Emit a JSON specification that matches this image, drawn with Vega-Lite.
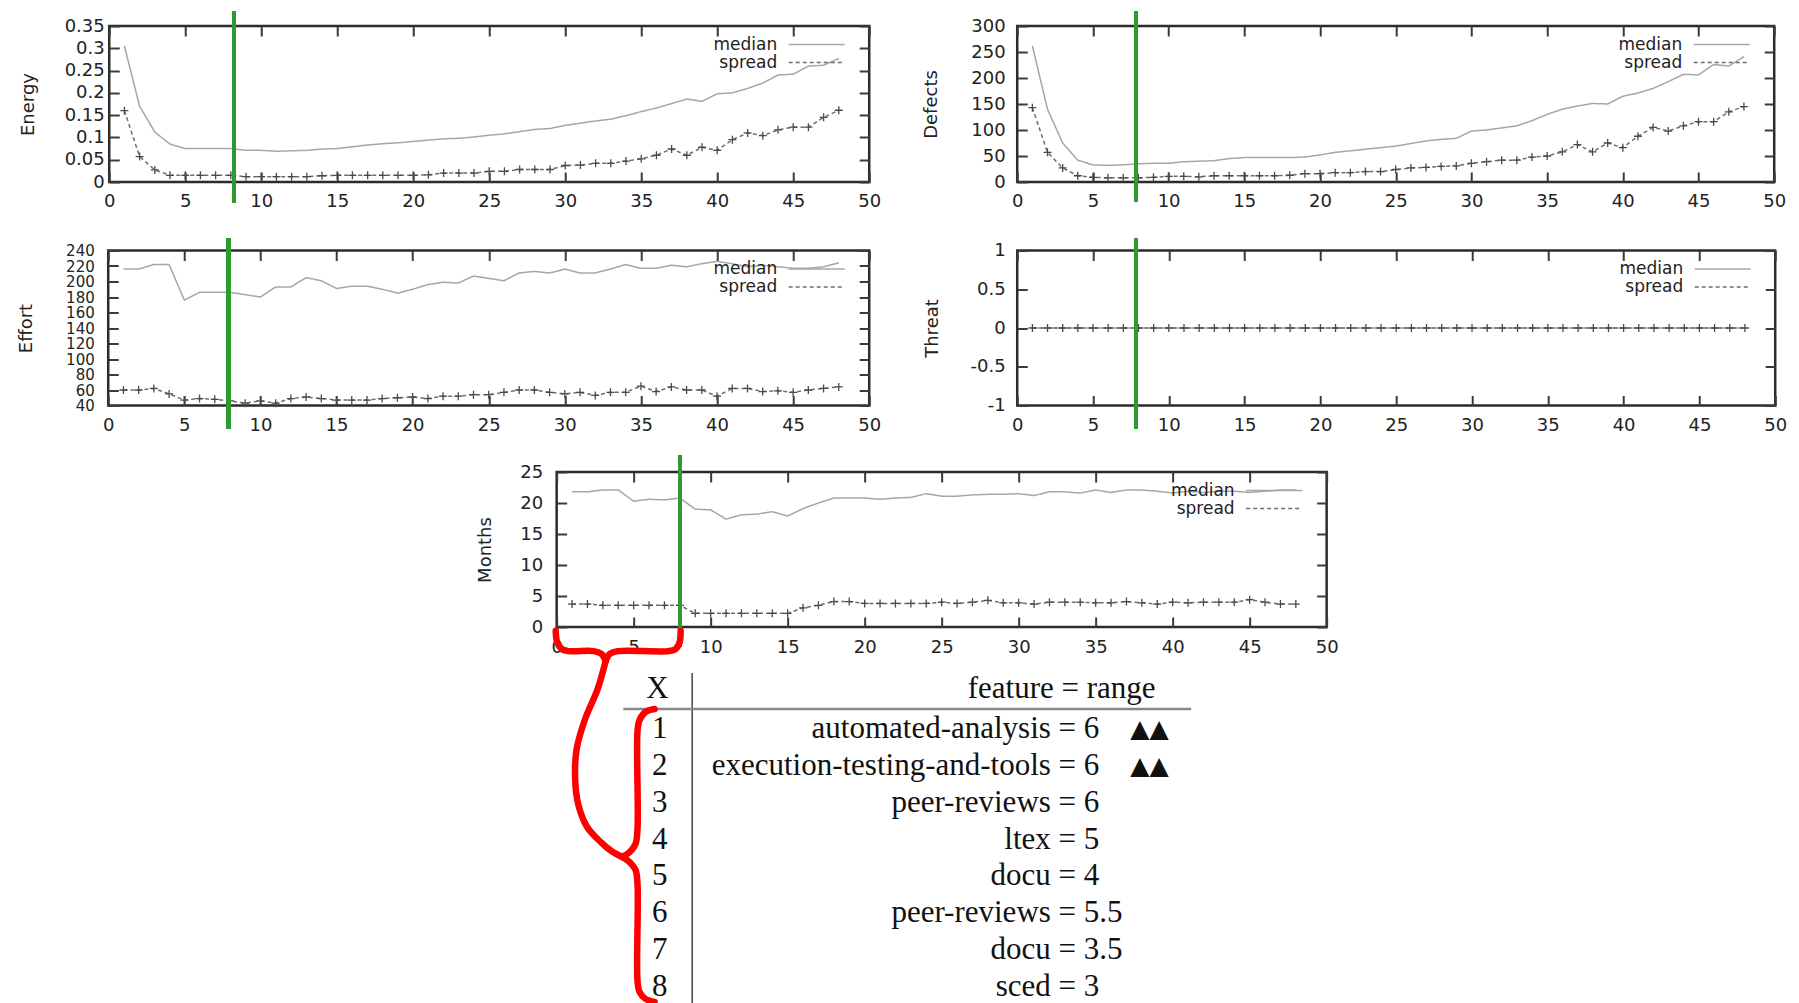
{
"$schema": "https://vega.github.io/schema/vega-lite/v6.json",
"background": "white",
"padding": {"left": 16, "top": 8, "right": 0, "bottom": 0},
"datasets": {
"energy": [
{"t":1,"median":0.305,"spread":0.16},{"t":2,"median":0.17,"spread":0.057},{"t":3,"median":0.112,"spread":0.027},{"t":4,"median":0.085,"spread":0.015},{"t":5,"median":0.075,"spread":0.015},{"t":6,"median":0.075,"spread":0.015},{"t":7,"median":0.075,"spread":0.015},{"t":8,"median":0.075,"spread":0.015},{"t":9,"median":0.071,"spread":0.012},{"t":10,"median":0.071,"spread":0.012},{"t":11,"median":0.069,"spread":0.012},{"t":12,"median":0.07,"spread":0.012},{"t":13,"median":0.071,"spread":0.012},{"t":14,"median":0.074,"spread":0.014},{"t":15,"median":0.075,"spread":0.015},{"t":16,"median":0.079,"spread":0.015},{"t":17,"median":0.083,"spread":0.015},{"t":18,"median":0.086,"spread":0.015},{"t":19,"median":0.088,"spread":0.015},{"t":20,"median":0.091,"spread":0.015},{"t":21,"median":0.094,"spread":0.016},{"t":22,"median":0.097,"spread":0.02},{"t":23,"median":0.098,"spread":0.02},{"t":24,"median":0.101,"spread":0.02},{"t":25,"median":0.105,"spread":0.024},{"t":26,"median":0.108,"spread":0.024},{"t":27,"median":0.113,"spread":0.028},{"t":28,"median":0.118,"spread":0.028},{"t":29,"median":0.12,"spread":0.028},{"t":30,"median":0.127,"spread":0.037},{"t":31,"median":0.132,"spread":0.038},{"t":32,"median":0.137,"spread":0.042},{"t":33,"median":0.141,"spread":0.042},{"t":34,"median":0.149,"spread":0.047},{"t":35,"median":0.158,"spread":0.052},{"t":36,"median":0.166,"spread":0.06},{"t":37,"median":0.176,"spread":0.074},{"t":38,"median":0.186,"spread":0.06},{"t":39,"median":0.181,"spread":0.078},{"t":40,"median":0.198,"spread":0.071},{"t":41,"median":0.2,"spread":0.095},{"t":42,"median":0.21,"spread":0.11},{"t":43,"median":0.222,"spread":0.104},{"t":44,"median":0.24,"spread":0.117},{"t":45,"median":0.242,"spread":0.123},{"t":46,"median":0.26,"spread":0.123},{"t":47,"median":0.262,"spread":0.145},{"t":48,"median":0.277,"spread":0.161}
],
"defects": [
{"t":1,"median":262,"spread":143},{"t":2,"median":140,"spread":57},{"t":3,"median":75,"spread":27},{"t":4,"median":42,"spread":12},{"t":5,"median":33,"spread":9},{"t":6,"median":32,"spread":8},{"t":7,"median":33,"spread":8},{"t":8,"median":35,"spread":8},{"t":9,"median":36,"spread":9},{"t":10,"median":36,"spread":11},{"t":11,"median":39,"spread":11},{"t":12,"median":40,"spread":10},{"t":13,"median":41,"spread":12},{"t":14,"median":45,"spread":12},{"t":15,"median":47,"spread":12},{"t":16,"median":47,"spread":12},{"t":17,"median":47,"spread":12},{"t":18,"median":47,"spread":13},{"t":19,"median":48,"spread":16},{"t":20,"median":52,"spread":16},{"t":21,"median":57,"spread":18},{"t":22,"median":60,"spread":18},{"t":23,"median":63,"spread":20},{"t":24,"median":66,"spread":20},{"t":25,"median":69,"spread":24},{"t":26,"median":74,"spread":27},{"t":27,"median":79,"spread":28},{"t":28,"median":82,"spread":30},{"t":29,"median":84,"spread":31},{"t":30,"median":98,"spread":36},{"t":31,"median":100,"spread":39},{"t":32,"median":104,"spread":42},{"t":33,"median":108,"spread":42},{"t":34,"median":118,"spread":48},{"t":35,"median":130,"spread":50},{"t":36,"median":140,"spread":58},{"t":37,"median":146,"spread":72},{"t":38,"median":151,"spread":58},{"t":39,"median":150,"spread":75},{"t":40,"median":165,"spread":66},{"t":41,"median":171,"spread":88},{"t":42,"median":180,"spread":105},{"t":43,"median":193,"spread":98},{"t":44,"median":207,"spread":108},{"t":45,"median":206,"spread":116},{"t":46,"median":226,"spread":116},{"t":47,"median":223,"spread":135},{"t":48,"median":241,"spread":145}
],
"effort": [
{"t":1,"median":216,"spread":60},{"t":2,"median":216,"spread":60},{"t":3,"median":222,"spread":62},{"t":4,"median":222,"spread":55},{"t":5,"median":176,"spread":47},{"t":6,"median":186,"spread":49},{"t":7,"median":186,"spread":48},{"t":8,"median":186,"spread":46},{"t":9,"median":183,"spread":43},{"t":10,"median":180,"spread":46},{"t":11,"median":193,"spread":43},{"t":12,"median":193,"spread":49},{"t":13,"median":205,"spread":51},{"t":14,"median":201,"spread":49},{"t":15,"median":191,"spread":47},{"t":16,"median":194,"spread":47},{"t":17,"median":194,"spread":47},{"t":18,"median":190,"spread":49},{"t":19,"median":185,"spread":50},{"t":20,"median":190,"spread":51},{"t":21,"median":196,"spread":49},{"t":22,"median":199,"spread":52},{"t":23,"median":198,"spread":52},{"t":24,"median":207,"spread":54},{"t":25,"median":204,"spread":54},{"t":26,"median":201,"spread":57},{"t":27,"median":211,"spread":60},{"t":28,"median":213,"spread":60},{"t":29,"median":211,"spread":57},{"t":30,"median":216,"spread":55},{"t":31,"median":211,"spread":57},{"t":32,"median":211,"spread":53},{"t":33,"median":216,"spread":57},{"t":34,"median":222,"spread":57},{"t":35,"median":217,"spread":65},{"t":36,"median":217,"spread":58},{"t":37,"median":221,"spread":64},{"t":38,"median":219,"spread":60},{"t":39,"median":223,"spread":60},{"t":40,"median":226,"spread":52},{"t":41,"median":223,"spread":62},{"t":42,"median":219,"spread":62},{"t":43,"median":221,"spread":58},{"t":44,"median":219,"spread":59},{"t":45,"median":217,"spread":57},{"t":46,"median":217,"spread":60},{"t":47,"median":219,"spread":62},{"t":48,"median":224,"spread":64}
],
"threat": [
{"t":1,"median":0,"spread":0},{"t":2,"median":0,"spread":0},{"t":3,"median":0,"spread":0},{"t":4,"median":0,"spread":0},{"t":5,"median":0,"spread":0},{"t":6,"median":0,"spread":0},{"t":7,"median":0,"spread":0},{"t":8,"median":0,"spread":0},{"t":9,"median":0,"spread":0},{"t":10,"median":0,"spread":0},{"t":11,"median":0,"spread":0},{"t":12,"median":0,"spread":0},{"t":13,"median":0,"spread":0},{"t":14,"median":0,"spread":0},{"t":15,"median":0,"spread":0},{"t":16,"median":0,"spread":0},{"t":17,"median":0,"spread":0},{"t":18,"median":0,"spread":0},{"t":19,"median":0,"spread":0},{"t":20,"median":0,"spread":0},{"t":21,"median":0,"spread":0},{"t":22,"median":0,"spread":0},{"t":23,"median":0,"spread":0},{"t":24,"median":0,"spread":0},{"t":25,"median":0,"spread":0},{"t":26,"median":0,"spread":0},{"t":27,"median":0,"spread":0},{"t":28,"median":0,"spread":0},{"t":29,"median":0,"spread":0},{"t":30,"median":0,"spread":0},{"t":31,"median":0,"spread":0},{"t":32,"median":0,"spread":0},{"t":33,"median":0,"spread":0},{"t":34,"median":0,"spread":0},{"t":35,"median":0,"spread":0},{"t":36,"median":0,"spread":0},{"t":37,"median":0,"spread":0},{"t":38,"median":0,"spread":0},{"t":39,"median":0,"spread":0},{"t":40,"median":0,"spread":0},{"t":41,"median":0,"spread":0},{"t":42,"median":0,"spread":0},{"t":43,"median":0,"spread":0},{"t":44,"median":0,"spread":0},{"t":45,"median":0,"spread":0},{"t":46,"median":0,"spread":0},{"t":47,"median":0,"spread":0},{"t":48,"median":0,"spread":0}
],
"months": [
{"t":1,"median":21.8,"spread":3.7},{"t":2,"median":21.8,"spread":3.7},{"t":3,"median":22.1,"spread":3.5},{"t":4,"median":22.1,"spread":3.5},{"t":5,"median":20.3,"spread":3.5},{"t":6,"median":20.6,"spread":3.5},{"t":7,"median":20.5,"spread":3.5},{"t":8,"median":20.8,"spread":3.5},{"t":9,"median":19.0,"spread":2.2},{"t":10,"median":18.9,"spread":2.2},{"t":11,"median":17.4,"spread":2.2},{"t":12,"median":18.1,"spread":2.2},{"t":13,"median":18.2,"spread":2.2},{"t":14,"median":18.6,"spread":2.2},{"t":15,"median":17.9,"spread":2.2},{"t":16,"median":19.1,"spread":3.1},{"t":17,"median":20.0,"spread":3.5},{"t":18,"median":20.8,"spread":4.1},{"t":19,"median":20.8,"spread":4.1},{"t":20,"median":20.8,"spread":3.8},{"t":21,"median":20.6,"spread":3.8},{"t":22,"median":20.8,"spread":3.8},{"t":23,"median":20.9,"spread":3.8},{"t":24,"median":21.5,"spread":3.8},{"t":25,"median":21.1,"spread":4.0},{"t":26,"median":21.1,"spread":3.8},{"t":27,"median":21.3,"spread":4.0},{"t":28,"median":21.4,"spread":4.3},{"t":29,"median":21.4,"spread":3.9},{"t":30,"median":21.5,"spread":3.9},{"t":31,"median":21.2,"spread":3.7},{"t":32,"median":21.8,"spread":4.0},{"t":33,"median":21.8,"spread":4.0},{"t":34,"median":21.6,"spread":4.0},{"t":35,"median":22.1,"spread":3.9},{"t":36,"median":21.7,"spread":3.9},{"t":37,"median":22.1,"spread":4.1},{"t":38,"median":22.1,"spread":3.9},{"t":39,"median":21.9,"spread":3.7},{"t":40,"median":21.6,"spread":4.0},{"t":41,"median":21.9,"spread":3.9},{"t":42,"median":21.7,"spread":4.0},{"t":43,"median":21.9,"spread":4.0},{"t":44,"median":21.9,"spread":4.0},{"t":45,"median":21.7,"spread":4.4},{"t":46,"median":21.9,"spread":4.0},{"t":47,"median":22.1,"spread":3.7},{"t":48,"median":22.1,"spread":3.7}
],
"features": [
{"X":1,"feature":"automated-analysis","range":6,"flag":"▲▲"},
{"X":2,"feature":"execution-testing-and-tools","range":6,"flag":"▲▲"},
{"X":3,"feature":"peer-reviews","range":6,"flag":""},
{"X":4,"feature":"ltex","range":5,"flag":""},
{"X":5,"feature":"docu","range":4,"flag":""},
{"X":6,"feature":"peer-reviews","range":5.5,"flag":""},
{"X":7,"feature":"docu","range":3.5,"flag":""},
{"X":8,"feature":"sced","range":3,"flag":""}
],
"braces": [
{"part":"a1","i":0,"x":-0.06,"row":-1.59},{"part":"a1","i":1,"x":0.03,"row":-1.29},{"part":"a1","i":2,"x":0.32,"row":-1.10},{"part":"a1","i":3,"x":0.78,"row":-1.04},{"part":"a1","i":4,"x":2.40,"row":-1.04},{"part":"a1","i":5,"x":2.92,"row":-0.96},{"part":"a1","i":6,"x":3.18,"row":-0.77},
{"part":"a2","i":0,"x":3.18,"row":-0.77},{"part":"a2","i":1,"x":3.44,"row":-0.96},{"part":"a2","i":2,"x":3.96,"row":-1.04},{"part":"a2","i":3,"x":7.27,"row":-1.04},{"part":"a2","i":4,"x":7.73,"row":-1.10},{"part":"a2","i":5,"x":7.99,"row":-1.29},{"part":"a2","i":6,"x":8.05,"row":-1.59},
{"part":"c","i":0,"x":3.18,"row":-0.77},{"part":"c","i":1,"x":2.66,"row":-0.01},{"part":"c","i":2,"x":1.85,"row":0.80},{"part":"c","i":3,"x":1.30,"row":1.61},{"part":"c","i":4,"x":1.20,"row":2.43},{"part":"c","i":5,"x":1.40,"row":3.11},{"part":"c","i":6,"x":1.98,"row":3.73},{"part":"c","i":7,"x":2.87,"row":4.14},{"part":"c","i":8,"x":3.55,"row":4.38},{"part":"c","i":9,"x":4.25,"row":4.54},
{"part":"b","i":0,"x":6.36,"row":0.53},{"part":"b","i":1,"x":5.77,"row":0.61},{"part":"b","i":2,"x":5.38,"row":0.83},{"part":"b","i":3,"x":5.25,"row":1.13},{"part":"b","i":4,"x":5.25,"row":3.78},{"part":"b","i":5,"x":5.12,"row":4.19},{"part":"b","i":6,"x":4.74,"row":4.41},{"part":"b","i":7,"x":4.25,"row":4.54},
{"part":"d","i":0,"x":4.25,"row":4.54},{"part":"d","i":1,"x":4.74,"row":4.68},{"part":"d","i":2,"x":5.12,"row":4.89},{"part":"d","i":3,"x":5.25,"row":5.27},{"part":"d","i":4,"x":5.25,"row":7.90},{"part":"d","i":5,"x":5.38,"row":8.20},{"part":"d","i":6,"x":5.77,"row":8.39},{"part":"d","i":7,"x":6.36,"row":8.47}
]
},
"config": {
"view": {"stroke": "#2b2b2b", "strokeWidth": 2.5},
"axis": {"labelFont": "DejaVu Sans", "labelFontSize": 18, "labelColor": "#222", "titleFont": "DejaVu Sans", "titleFontSize": 18, "titleFontWeight": "normal", "titleColor": "#222", "tickColor": "#3a3a3a", "tickWidth": 2, "tickSize": -10, "domain": false, "grid": false, "labelFlush": false, "labelOverlap": false}
},
"spacing": 16,
"center": true,
"resolve": {"scale": {"color": "independent", "strokeDash": "independent"}, "legend": {"color": "independent", "strokeDash": "independent"}},
"vconcat": [
{
"spacing": 22.5,
"center": true,
"resolve": {"scale": {"color": "independent", "strokeDash": "independent"}, "legend": {"color": "independent", "strokeDash": "independent"}},
"vconcat": [
{
"hconcat": [
{
"width": 760, "height": 156,
"data": {"name": "energy"},
"resolve": {"axis": {"x": "independent", "y": "independent"}},
"layer": [
{"transform": [{"fold": ["median", "spread"], "as": ["series", "value"]}],
 "mark": {"type": "line", "strokeWidth": 1.5},
 "encoding": {
  "x": {"field": "t", "type": "quantitative", "scale": {"domain": [0, 50], "nice": false}, "axis": {"values": [0,5,10,15,20,25,30,35,40,45,50], "title": null, "labelPadding": 20}},
  "y": {"field": "value", "type": "quantitative", "scale": {"domain": [0, 0.35], "nice": false, "zero": false}, "axis": {"values": [0,0.05,0.1,0.15,0.2,0.25,0.3,0.35], "labelExpr": "datum.value + ''", "title": "Energy", "labelPadding": 15, "titlePadding": 27}},
  "color": {"field": "series", "type": "nominal", "scale": {"domain": ["median", "spread"], "range": ["#a6a6a6", "#6e6e6e"]}, "legend": {"title": null, "orient": "top-right", "offset": 10, "padding": 0, "labelAlign": "right", "labelOffset": -48, "symbolType": "M-5.6,0H5.6M7.8,0", "symbolSize": 100, "symbolStrokeWidth": 1.5, "labelFont": "DejaVu Sans", "labelFontSize": 17, "labelColor": "#222", "rowPadding": 0}},
  "strokeDash": {"field": "series", "type": "nominal", "scale": {"domain": ["median", "spread"], "range": [[1, 0], [4, 3]]}, "legend": {"title": null}}
 }},
{"mark": {"type": "point", "shape": "M-1,0H1M0,-1V1", "filled": false, "color": "#4a4a4a", "strokeWidth": 1.3, "size": 64, "opacity": 1},
 "encoding": {
  "x": {"field": "t", "type": "quantitative", "scale": {"domain": [0, 50], "nice": false}, "axis": null},
  "y": {"field": "spread", "type": "quantitative", "scale": {"domain": [0, 0.35], "nice": false, "zero": false}, "axis": null}
 }},
{"mark": {"type": "rule", "color": "#2f9a2f", "strokeWidth": 3.5},
 "encoding": {
  "x": {"datum": 8.2, "type": "quantitative", "scale": {"domain": [0, 50], "nice": false}, "axis": {"orient": "top", "values": [0,5,10,15,20,25,30,35,40,45,50], "labels": false, "title": null}},
  "y": {"datum": 0.3825, "type": "quantitative", "scale": {"domain": [0, 0.35], "nice": false, "zero": false}, "axis": {"orient": "right", "values": [0,0.05,0.1,0.15,0.2,0.25,0.3,0.35], "labels": false, "title": null}},
  "y2": {"datum": -0.045}
 }}
]
},
{
"width": 757, "height": 156,
"data": {"name": "defects"},
"resolve": {"axis": {"x": "independent", "y": "independent"}},
"layer": [
{"transform": [{"fold": ["median", "spread"], "as": ["series", "value"]}],
 "mark": {"type": "line", "strokeWidth": 1.5},
 "encoding": {
  "x": {"field": "t", "type": "quantitative", "scale": {"domain": [0, 50], "nice": false}, "axis": {"values": [0,5,10,15,20,25,30,35,40,45,50], "title": null, "labelPadding": 20}},
  "y": {"field": "value", "type": "quantitative", "scale": {"domain": [0, 300], "nice": false, "zero": false}, "axis": {"values": [0,50,100,150,200,250,300], "labelExpr": "datum.value + ''", "title": "Defects", "labelPadding": 22, "titlePadding": 30}},
  "color": {"field": "series", "type": "nominal", "scale": {"domain": ["median", "spread"], "range": ["#a6a6a6", "#6e6e6e"]}, "legend": {"title": null, "orient": "top-right", "offset": 10, "padding": 0, "labelAlign": "right", "labelOffset": -48, "symbolType": "M-5.6,0H5.6M7.8,0", "symbolSize": 100, "symbolStrokeWidth": 1.5, "labelFont": "DejaVu Sans", "labelFontSize": 17, "labelColor": "#222", "rowPadding": 0}},
  "strokeDash": {"field": "series", "type": "nominal", "scale": {"domain": ["median", "spread"], "range": [[1, 0], [4, 3]]}, "legend": {"title": null}}
 }},
{"mark": {"type": "point", "shape": "M-1,0H1M0,-1V1", "filled": false, "color": "#4a4a4a", "strokeWidth": 1.3, "size": 64, "opacity": 1},
 "encoding": {
  "x": {"field": "t", "type": "quantitative", "scale": {"domain": [0, 50], "nice": false}, "axis": null},
  "y": {"field": "spread", "type": "quantitative", "scale": {"domain": [0, 300], "nice": false, "zero": false}, "axis": null}
 }},
{"mark": {"type": "rule", "color": "#2f9a2f", "strokeWidth": 3.5},
 "encoding": {
  "x": {"datum": 7.85, "type": "quantitative", "scale": {"domain": [0, 50], "nice": false}, "axis": {"orient": "top", "values": [0,5,10,15,20,25,30,35,40,45,50], "labels": false, "title": null}},
  "y": {"datum": 328, "type": "quantitative", "scale": {"domain": [0, 300], "nice": false, "zero": false}, "axis": {"orient": "right", "values": [0,50,100,150,200,250,300], "labels": false, "title": null}},
  "y2": {"datum": -38.5}
 }}
]
}
],
"spacing": 148,
"bounds": "flush",
"resolve": {"scale": {"color": "independent", "strokeDash": "independent"}, "legend": {"color": "independent", "strokeDash": "independent"}}
},
{
"hconcat": [
{
"width": 761, "height": 155,
"data": {"name": "effort"},
"resolve": {"axis": {"x": "independent", "y": "independent"}},
"layer": [
{"transform": [{"fold": ["median", "spread"], "as": ["series", "value"]}],
 "mark": {"type": "line", "strokeWidth": 1.5},
 "encoding": {
  "x": {"field": "t", "type": "quantitative", "scale": {"domain": [0, 50], "nice": false}, "axis": {"values": [0,5,10,15,20,25,30,35,40,45,50], "title": null, "labelPadding": 21}},
  "y": {"field": "value", "type": "quantitative", "scale": {"domain": [40, 240], "nice": false, "zero": false}, "axis": {"values": [40,60,80,100,120,140,160,180,200,220,240], "labelExpr": "datum.value + ''", "labelFontSize": 15, "title": "Effort", "labelPadding": 24, "titlePadding": 30}},
  "color": {"field": "series", "type": "nominal", "scale": {"domain": ["median", "spread"], "range": ["#a6a6a6", "#6e6e6e"]}, "legend": {"title": null, "orient": "top-right", "offset": 10, "padding": 0, "labelAlign": "right", "labelOffset": -48, "symbolType": "M-5.6,0H5.6M7.8,0", "symbolSize": 100, "symbolStrokeWidth": 1.5, "labelFont": "DejaVu Sans", "labelFontSize": 17, "labelColor": "#222", "rowPadding": 0}},
  "strokeDash": {"field": "series", "type": "nominal", "scale": {"domain": ["median", "spread"], "range": [[1, 0], [4, 3]]}, "legend": {"title": null}}
 }},
{"mark": {"type": "point", "shape": "M-1,0H1M0,-1V1", "filled": false, "color": "#4a4a4a", "strokeWidth": 1.3, "size": 64, "opacity": 1},
 "encoding": {
  "x": {"field": "t", "type": "quantitative", "scale": {"domain": [0, 50], "nice": false}, "axis": null},
  "y": {"field": "spread", "type": "quantitative", "scale": {"domain": [40, 240], "nice": false, "zero": false}, "axis": null}
 }},
{"mark": {"type": "rule", "color": "#2f9a2f", "strokeWidth": 3.5},
 "encoding": {
  "x": {"datum": 7.9, "type": "quantitative", "scale": {"domain": [0, 50], "nice": false}, "axis": {"orient": "top", "values": [0,5,10,15,20,25,30,35,40,45,50], "labels": false, "title": null}},
  "y": {"datum": 256, "type": "quantitative", "scale": {"domain": [40, 240], "nice": false, "zero": false}, "axis": {"orient": "right", "values": [40,60,80,100,120,140,160,180,200,220,240], "labels": false, "title": null}},
  "y2": {"datum": 10.3}
 }}
]
},
{
"width": 758, "height": 155,
"data": {"name": "threat"},
"resolve": {"axis": {"x": "independent", "y": "independent"}},
"layer": [
{"transform": [{"fold": ["median", "spread"], "as": ["series", "value"]}],
 "mark": {"type": "line", "strokeWidth": 1.5},
 "encoding": {
  "x": {"field": "t", "type": "quantitative", "scale": {"domain": [0, 50], "nice": false}, "axis": {"values": [0,5,10,15,20,25,30,35,40,45,50], "title": null, "labelPadding": 21}},
  "y": {"field": "value", "type": "quantitative", "scale": {"domain": [-1, 1], "nice": false, "zero": false}, "axis": {"values": [-1,-0.5,0,0.5,1], "labelExpr": "datum.value + ''", "title": "Threat", "labelPadding": 22, "titlePadding": 29}},
  "color": {"field": "series", "type": "nominal", "scale": {"domain": ["median", "spread"], "range": ["#a6a6a6", "#6e6e6e"]}, "legend": {"title": null, "orient": "top-right", "offset": 10, "padding": 0, "labelAlign": "right", "labelOffset": -48, "symbolType": "M-5.6,0H5.6M7.8,0", "symbolSize": 100, "symbolStrokeWidth": 1.5, "labelFont": "DejaVu Sans", "labelFontSize": 17, "labelColor": "#222", "rowPadding": 0}},
  "strokeDash": {"field": "series", "type": "nominal", "scale": {"domain": ["median", "spread"], "range": [[1, 0], [4, 3]]}, "legend": {"title": null}}
 }},
{"mark": {"type": "point", "shape": "M-1,0H1M0,-1V1", "filled": false, "color": "#4a4a4a", "strokeWidth": 1.3, "size": 64, "opacity": 1},
 "encoding": {
  "x": {"field": "t", "type": "quantitative", "scale": {"domain": [0, 50], "nice": false}, "axis": null},
  "y": {"field": "spread", "type": "quantitative", "scale": {"domain": [-1, 1], "nice": false, "zero": false}, "axis": null}
 }},
{"mark": {"type": "rule", "color": "#2f9a2f", "strokeWidth": 3.5},
 "encoding": {
  "x": {"datum": 7.85, "type": "quantitative", "scale": {"domain": [0, 50], "nice": false}, "axis": {"orient": "top", "values": [0,5,10,15,20,25,30,35,40,45,50], "labels": false, "title": null}},
  "y": {"datum": 1.161, "type": "quantitative", "scale": {"domain": [-1, 1], "nice": false, "zero": false}, "axis": {"orient": "right", "values": [-1,-0.5,0,0.5,1], "labels": false, "title": null}},
  "y2": {"datum": -1.297}
 }}
]
}
],
"spacing": 148,
"bounds": "flush",
"resolve": {"scale": {"color": "independent", "strokeDash": "independent"}, "legend": {"color": "independent", "strokeDash": "independent"}}
}
]
},
{
"width": 770, "height": 155,
"data": {"name": "months"},
"resolve": {"scale": {"y": "independent"}, "axis": {"x": "independent", "y": "independent"}},
"layer": [
{"transform": [{"fold": ["median", "spread"], "as": ["series", "value"]}],
 "mark": {"type": "line", "strokeWidth": 1.5},
 "encoding": {
  "x": {"field": "t", "type": "quantitative", "scale": {"domain": [0, 50], "nice": false}, "axis": {"values": [0,5,10,15,20,25,30,35,40,45,50], "title": null, "labelPadding": 21}},
  "y": {"field": "value", "type": "quantitative", "scale": {"domain": [0, 25], "nice": false, "zero": false}, "axis": {"values": [0,5,10,15,20,25], "labelExpr": "datum.value + ''", "title": "Months", "labelPadding": 24, "titlePadding": 25}},
  "color": {"field": "series", "type": "nominal", "scale": {"domain": ["median", "spread"], "range": ["#a6a6a6", "#6e6e6e"]}, "legend": {"title": null, "orient": "top-right", "offset": 10, "padding": 0, "labelAlign": "right", "labelOffset": -48, "symbolType": "M-5.6,0H5.6M7.8,0", "symbolSize": 100, "symbolStrokeWidth": 1.5, "labelFont": "DejaVu Sans", "labelFontSize": 17, "labelColor": "#222", "rowPadding": 0}},
  "strokeDash": {"field": "series", "type": "nominal", "scale": {"domain": ["median", "spread"], "range": [[1, 0], [4, 3]]}, "legend": {"title": null}}
 }},
{"mark": {"type": "point", "shape": "M-1,0H1M0,-1V1", "filled": false, "color": "#4a4a4a", "strokeWidth": 1.3, "size": 64, "opacity": 1},
 "encoding": {
  "x": {"field": "t", "type": "quantitative", "scale": {"domain": [0, 50], "nice": false}, "axis": null},
  "y": {"field": "spread", "type": "quantitative", "scale": {"domain": [0, 25], "nice": false, "zero": false}, "axis": null}
 }},
{"mark": {"type": "rule", "color": "#2f9a2f", "strokeWidth": 3.5},
 "encoding": {
  "x": {"datum": 8.0, "type": "quantitative", "scale": {"domain": [0, 50], "nice": false}, "axis": {"orient": "top", "values": [0,5,10,15,20,25,30,35,40,45,50], "labels": false, "title": null}},
  "y": {"datum": 27.6, "type": "quantitative", "scale": {"domain": [0, 25], "nice": false, "zero": false}, "axis": {"orient": "right", "values": [0,5,10,15,20,25], "labels": false, "title": null}},
  "y2": {"datum": -3.2}
 }},
{"data": {"values": [{}]},
 "mark": {"type": "rule", "color": "#444", "strokeWidth": 1.5},
 "encoding": {
  "x": {"datum": 8.8, "type": "quantitative", "axis": null},
  "y": {"datum": -0.45, "type": "quantitative", "scale": {"domain": [0, 8], "range": [217.5, 512.5], "nice": false, "zero": false}, "axis": null},
  "y2": {"datum": 8.5}
 }},
{"data": {"values": [{}]},
 "mark": {"type": "rule", "color": "#888", "strokeWidth": 2.5},
 "encoding": {
  "x": {"datum": 4.33, "type": "quantitative", "axis": null},
  "x2": {"datum": 41.2},
  "y": {"datum": 0.53, "type": "quantitative", "scale": {"domain": [0, 8], "range": [217.5, 512.5], "nice": false, "zero": false}, "axis": null}
 }},
{"data": {"values": [{"label": "X"}]},
 "mark": {"type": "text", "font": "Liberation Serif", "fontSize": 31, "color": "#111", "align": "center", "baseline": "middle", "dy": 2.5},
 "encoding": {
  "x": {"datum": 6.55, "type": "quantitative", "axis": null},
  "y": {"datum": -0.07, "type": "quantitative", "scale": {"domain": [0, 8], "range": [217.5, 512.5], "nice": false, "zero": false}, "axis": null},
  "text": {"field": "label", "type": "nominal"}
 }},
{"data": {"values": [{"label": "feature = range"}]},
 "mark": {"type": "text", "font": "Liberation Serif", "fontSize": 31, "color": "#111", "align": "center", "baseline": "middle", "dy": 2.5},
 "encoding": {
  "x": {"datum": 32.79, "type": "quantitative", "axis": null},
  "y": {"datum": -0.07, "type": "quantitative", "scale": {"domain": [0, 8], "range": [217.5, 512.5], "nice": false, "zero": false}, "axis": null},
  "text": {"field": "label", "type": "nominal"}
 }},
{"data": {"name": "features"},
 "mark": {"type": "text", "font": "Liberation Serif", "fontSize": 31, "color": "#111", "align": "center", "baseline": "middle", "dy": 2.5},
 "encoding": {
  "x": {"datum": 6.7, "type": "quantitative", "axis": null},
  "y": {"field": "X", "type": "quantitative", "scale": {"domain": [0, 8], "range": [217.5, 512.5], "nice": false, "zero": false}, "axis": null},
  "text": {"field": "X", "type": "quantitative"}
 }},
{"data": {"name": "features"},
 "mark": {"type": "text", "font": "Liberation Serif", "fontSize": 31, "color": "#111", "align": "right", "baseline": "middle", "dy": 2.5},
 "encoding": {
  "x": {"datum": 32.09, "type": "quantitative", "axis": null},
  "y": {"field": "X", "type": "quantitative", "scale": {"domain": [0, 8], "range": [217.5, 512.5], "nice": false, "zero": false}, "axis": null},
  "text": {"field": "feature", "type": "nominal"}
 }},
{"data": {"name": "features"},
 "mark": {"type": "text", "text": "=", "font": "Liberation Serif", "fontSize": 31, "color": "#111", "align": "center", "baseline": "middle", "dy": 2.5},
 "encoding": {
  "x": {"datum": 33.15, "type": "quantitative", "axis": null},
  "y": {"field": "X", "type": "quantitative", "scale": {"domain": [0, 8], "range": [217.5, 512.5], "nice": false, "zero": false}, "axis": null}
 }},
{"data": {"name": "features"},
 "mark": {"type": "text", "font": "Liberation Serif", "fontSize": 31, "color": "#111", "align": "left", "baseline": "middle", "dy": 2.5},
 "encoding": {
  "x": {"datum": 34.22, "type": "quantitative", "axis": null},
  "y": {"field": "X", "type": "quantitative", "scale": {"domain": [0, 8], "range": [217.5, 512.5], "nice": false, "zero": false}, "axis": null},
  "text": {"field": "range", "type": "quantitative", "format": "~g"}
 }},
{"data": {"name": "features"},
 "mark": {"type": "text", "font": "DejaVu Sans", "fontSize": 25, "color": "#111", "align": "center", "baseline": "middle", "dy": 2.5},
 "encoding": {
  "x": {"datum": 38.5, "type": "quantitative", "axis": null},
  "y": {"field": "X", "type": "quantitative", "scale": {"domain": [0, 8], "range": [217.5, 512.5], "nice": false, "zero": false}, "axis": null},
  "text": {"field": "flag", "type": "nominal"}
 }},
{"data": {"name": "braces"},
 "mark": {"type": "line", "color": "#ff0000", "strokeWidth": 6.5, "interpolate": "catmull-rom", "strokeCap": "round", "strokeJoin": "round"},
 "encoding": {
  "x": {"field": "x", "type": "quantitative", "axis": null},
  "y": {"field": "row", "type": "quantitative", "scale": {"domain": [0, 8], "range": [217.5, 512.5], "nice": false, "zero": false}, "axis": null},
  "detail": {"field": "part", "type": "nominal"},
  "order": {"field": "i", "type": "quantitative"}
 }}
]
}
]
}
